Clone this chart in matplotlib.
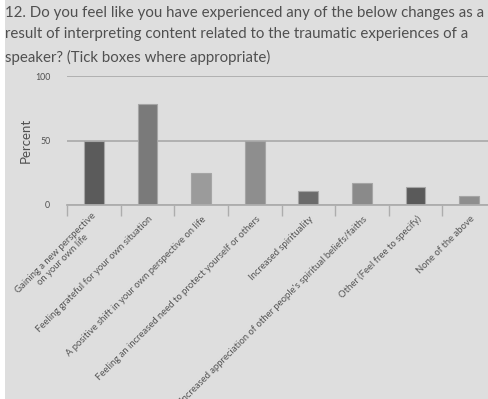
import matplotlib.pyplot as plt
import matplotlib.transforms as mtransforms
import numpy as np
from matplotlib.patches import Rectangle

plt.rcParams['font.family'] = ['Lato', 'DejaVu Sans']

title = ("12. Do you feel like you have experienced any of the below changes as a\n"
         "result of interpreting content related to the traumatic experiences of a\n"
         "speaker? (Tick boxes where appropriate)")

categories = [
    'Gaining a new perspective\non your own life',
    'Feeling grateful for your own situation',
    'A positive shift in your own perspective on life',
    'Feeling an increased need to protect yourself or others',
    'Increased spirituality',
    "Increased appreciation of other people's spiritual beliefs/faiths",
    'Other (Feel free to specify)',
    'None of the above',
]
percent = [50, 78, 25, 50, 11, 17, 14, 7]
bar_colors = ['#5b5b5b', '#7a7a7a', '#9b9b9b', '#8e8e8e',
              '#6b6b6b', '#8a8a8a', '#5a5a5a', '#8e8e8e']

bg = '#dedede'
grid = '#adadad'
text_col = '#505050'

fig = plt.figure(figsize=(4.89, 3.99), dpi=100, facecolor=bg)
# thin white margin down the left edge
fig.patches.append(Rectangle((0, 0), 5 / 489, 1, transform=fig.transFigure,
                             facecolor='white', edgecolor='none', zorder=-1))

fig.text(5 / 489, 1 - 6 / 399, title, ha='left', va='top', fontsize=10.8,
         color=text_col, linespacing=1.68)

ax = fig.add_axes([67 / 489, 194 / 399, 429 / 489, 129 / 399])
ax.set_facecolor('none')

x = np.arange(len(categories))
ax.bar(x, percent, width=0.37, color=bar_colors, edgecolor='#a5a5a5',
       linewidth=0.8, zorder=3)

ax.set_xlim(-0.5, len(categories) - 0.5)
ax.set_ylim(0, 100)
ax.set_yticks([0, 50, 100])
ax.yaxis.grid(True, color=grid, linewidth=1.3, zorder=1)
ax.tick_params(axis='y', length=0, labelsize=6.3, labelcolor=text_col, pad=12)

for s in ['top', 'right', 'left']:
    ax.spines[s].set_visible(False)
ax.spines['bottom'].set_color(grid)
ax.spines['bottom'].set_linewidth(1.3)
ax.spines['bottom'].set_zorder(4)

# category boundaries get the tick marks, labels sit on the centres
ax.set_xticks(np.arange(-0.5, len(categories)), minor=True)
ax.set_xticks(x)
ax.tick_params(axis='x', which='minor', length=8, color=grid, width=1)
ax.tick_params(axis='x', which='major', length=0, pad=9)
ax.set_xticklabels(categories, rotation=45, ha='right', va='center',
                   rotation_mode='anchor', fontsize=6.8, color='#555555',
                   multialignment='center')
# nudge the slanted labels a few pixels to the right
nudge = mtransforms.ScaledTranslation(4 / 100, 0, fig.dpi_scale_trans)
for lab in ax.get_xticklabels():
    lab.set_transform(lab.get_transform() + nudge)

ax.set_ylabel('Percent', fontsize=9.5, color=text_col, labelpad=2)

fig.savefig('out.png', dpi=100, facecolor=fig.get_facecolor())
